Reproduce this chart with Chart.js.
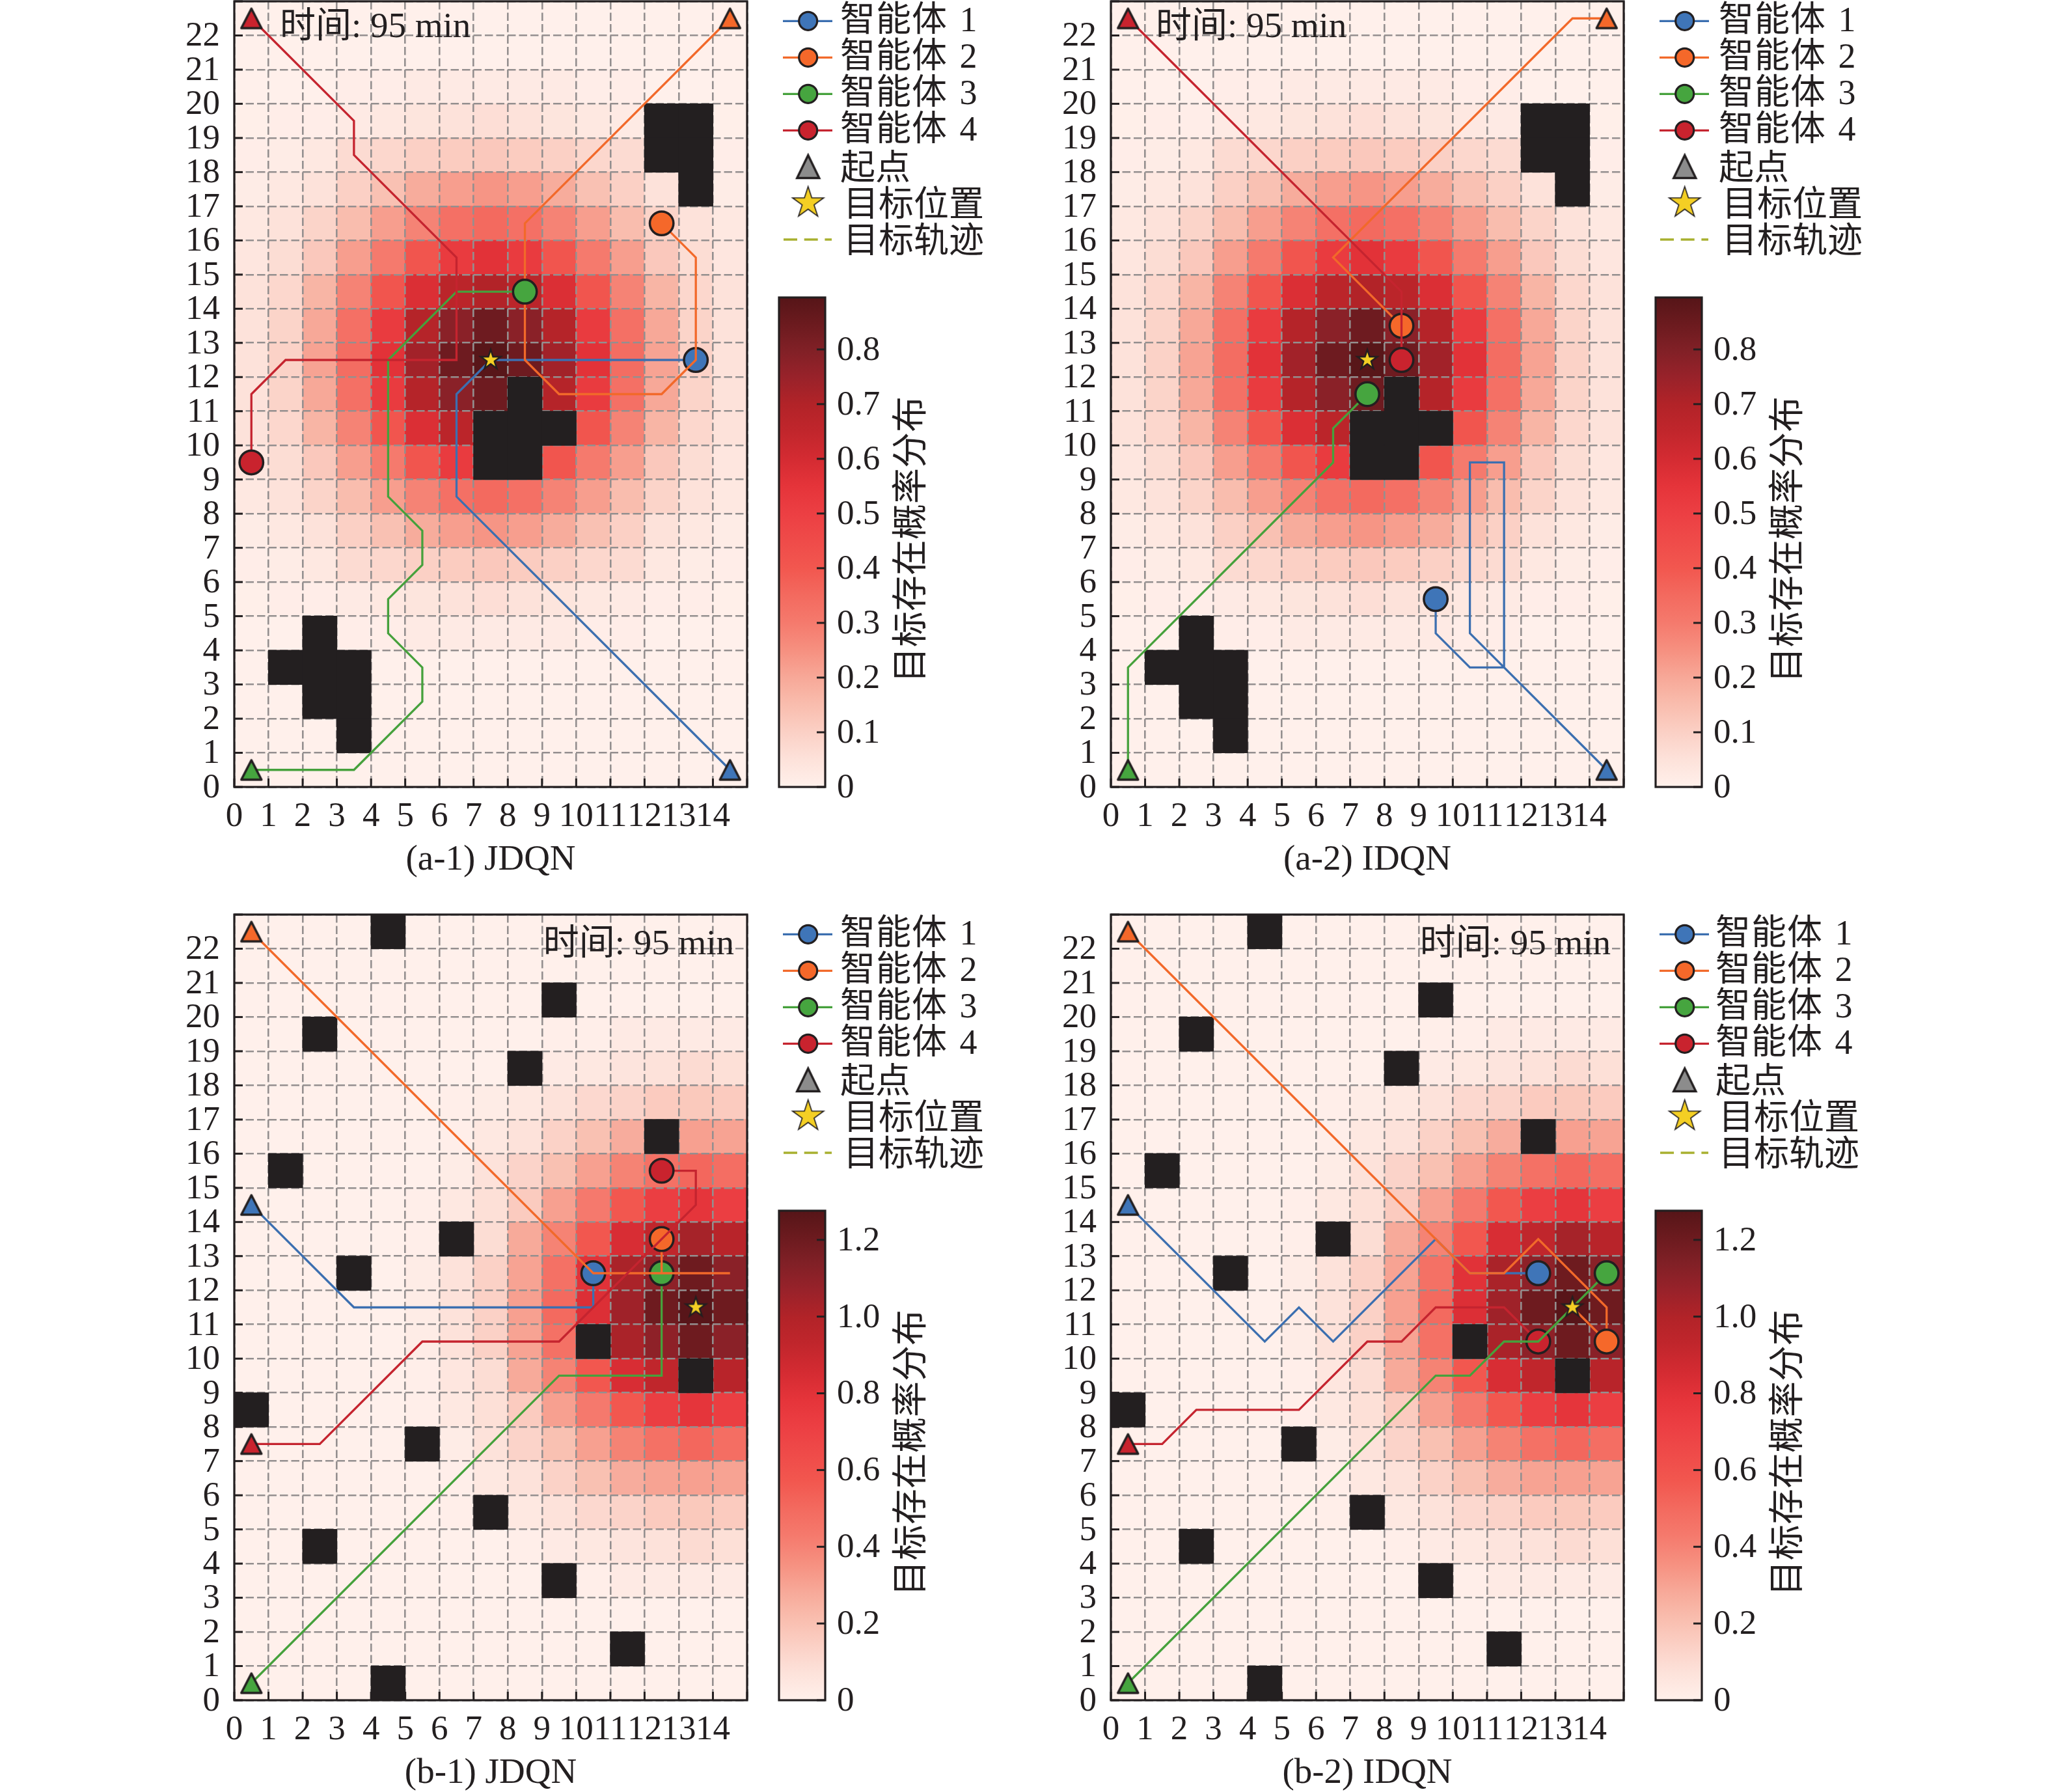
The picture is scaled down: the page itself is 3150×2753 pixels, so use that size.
<!DOCTYPE html>
<html><head><meta charset="utf-8">
<style>html,body{margin:0;padding:0;background:#fff}body{position:relative;width:3150px;height:2753px;overflow:hidden}canvas{position:absolute}</style>
<script src="https://cdn.jsdelivr.net/npm/chart.js@4"></script>
</head><body>
<script>
/* ---------- data ---------- */
const agentNames = ['智能体 1','智能体 2','智能体 3','智能体 4'];
const legendExtras = ['起点','目标位置','目标轨迹'];
const timeLabel = '时间: 95 min';
const colorbarLabel = '目标存在概率分布';
const xTickValues = [0,1,2,3,4,5,6,7,8,9,10,11,12,13,14];
const yTickValues = [0,1,2,3,4,5,6,7,8,9,10,11,12,13,14,15,16,17,18,19,20,21,22];

// heat values, top row (y=22) first, columns x=0..14
const heatA = [
[0,0,0,0,0,0,0,0,0,0,0,0,0,0,0],
[0,0,0,0,0,0,0,0,0,0,0,0,0,0,0],
[0,0,0,.01,.01,.02,.02,.02,.02,.02,.01,.01,0,0,0],
[.005,.01,.01,.02,.03,.04,.05,.06,.05,.04,.03,.02,.01,.01,.005],
[.01,.015,.03,.07,.08,.10,.11,.12,.11,.10,.08,.07,.03,.015,.01],
[.015,.03,.05,.10,.14,.19,.22,.24,.22,.19,.14,.10,.05,.03,.015],
[.03,.05,.09,.15,.22,.28,.33,.35,.33,.28,.22,.15,.09,.05,.03],
[.035,.065,.12,.22,.30,.41,.52,.56,.52,.41,.30,.22,.12,.065,.035],
[.05,.08,.17,.28,.41,.58,.67,.70,.67,.58,.41,.28,.17,.08,.05],
[.05,.09,.20,.33,.52,.69,.78,.84,.78,.69,.52,.33,.20,.09,.05],
[.05,.095,.21,.34,.56,.73,.84,.89,.84,.73,.56,.34,.21,.095,.05],
[.05,.09,.20,.33,.52,.69,.78,.84,.78,.69,.52,.33,.20,.09,.05],
[.05,.08,.17,.28,.41,.58,.67,.70,.67,.58,.41,.28,.17,.08,.05],
[.035,.065,.12,.22,.30,.41,.52,.56,.52,.41,.30,.22,.12,.065,.035],
[.03,.05,.09,.15,.22,.28,.33,.35,.33,.28,.22,.15,.09,.05,.03],
[.015,.03,.05,.10,.14,.19,.22,.24,.22,.19,.14,.10,.05,.03,.015],
[.01,.015,.03,.07,.08,.10,.11,.12,.11,.10,.08,.07,.03,.015,.01],
[.005,.01,.01,.02,.03,.04,.05,.06,.05,.04,.03,.02,.01,.01,.005],
[0,0,0,.01,.01,.02,.02,.02,.02,.02,.01,.01,0,0,0],
[0,0,0,0,0,0,0,0,0,0,0,0,0,0,0],
[0,0,0,0,0,0,0,0,0,0,0,0,0,0,0],
[0,0,0,0,0,0,0,0,0,0,0,0,0,0,0],
[0,0,0,0,0,0,0,0,0,0,0,0,0,0,0]
];
const heatB = [
[0,0,0,0,0,0,0,0,0,0,0,0,0,0,0],
[0,0,0,0,0,0,0,0,0,0,0,0,0,0,0],
[0,0,0,0,0,0,0,0,0,0,0,0,0,0,0],
[0,0,0,0,0,0,0,0,0,.01,.01,.03,.03,.03,.03],
[0,0,0,0,0,0,0,0,.01,.03,.04,.06,.07,.10,.08],
[0,0,0,0,0,0,.01,.02,.04,.07,.11,.13,.16,.17,.16],
[0,0,0,0,0,0,.01,.04,.07,.135,.20,.27,.30,.31,.30],
[0,0,0,0,0,0,.02,.07,.13,.20,.31,.40,.47,.51,.48],
[0,0,0,0,0,.01,.04,.08,.16,.31,.43,.57,.72,.78,.72],
[0,0,0,0,0,.01,.05,.09,.28,.40,.57,.84,.93,1.03,.97],
[0,0,0,0,0,.02,.07,.14,.30,.47,.80,1.02,1.10,1.20,1.11],
[0,0,0,0,0,.02,.07,.14,.31,.50,.82,1.05,1.20,1.27,1.20],
[0,0,0,0,0,.02,.07,.14,.30,.47,.80,1.02,1.10,1.20,1.11],
[0,0,0,0,0,.01,.05,.09,.28,.40,.57,.84,.93,1.03,.97],
[0,0,0,0,0,.01,.04,.08,.16,.31,.43,.57,.72,.78,.72],
[0,0,0,0,0,0,.02,.07,.13,.20,.31,.40,.47,.51,.48],
[0,0,0,0,0,0,.01,.04,.07,.135,.20,.27,.30,.31,.30],
[0,0,0,0,0,0,.01,.02,.04,.07,.11,.13,.16,.17,.16],
[0,0,0,0,0,0,0,0,.01,.03,.04,.06,.07,.10,.08],
[0,0,0,0,0,0,0,0,0,.01,.01,.03,.03,.03,.03],
[0,0,0,0,0,0,0,0,0,0,0,0,0,0,0],
[0,0,0,0,0,0,0,0,0,0,0,0,0,0,0],
[0,0,0,0,0,0,0,0,0,0,0,0,0,0,0]
];
const obstaclesA = [[12,19],[13,19],[12,18],[13,18],[13,17],[8,11],[7,10],[8,10],[9,10],[7,9],[8,9],[2,4],[1,3],[2,3],[3,3],[2,2],[3,2],[3,1]];
const obstaclesB = [[4,22],[9,20],[2,19],[8,18],[12,16],[1,15],[6,13],[3,12],[10,10],[13,9],[0,8],[5,7],[7,5],[2,4],[9,3],[11,1],[4,0]];

const a1Agent1 = [[14.5,.5],[6.5,8.5],[6.5,11.5],[7.5,12.5],[13.5,12.5]];
const a1Agent2 = [[14.5,22.5],[8.5,16.5],[8.5,12.5],[9.5,11.5],[12.5,11.5],[13.5,12.5],[13.5,15.5],[12.5,16.5]];
const a1Agent3 = [[.5,.5],[3.5,.5],[5.5,2.5],[5.5,3.5],[4.5,4.5],[4.5,5.5],[5.5,6.5],[5.5,7.5],[4.5,8.5],[4.5,12.5],[6.5,14.5],[8.5,14.5]];
const a1Agent4 = [[.5,22.5],[3.5,19.5],[3.5,18.5],[6.5,15.5],[6.5,12.5],[1.5,12.5],[.5,11.5],[.5,9.5]];
const a2Agent1 = [[14.5,.5],[10.5,4.5],[10.5,9.5],[11.5,9.5],[11.5,3.5],[10.5,3.5],[9.5,4.5],[9.5,5.5]];
const a2Agent2 = [[14.5,22.5],[13.5,22.5],[6.5,15.5],[8.5,13.5]];
const a2Agent3 = [[.5,.5],[.5,3.5],[6.5,9.5],[6.5,10.5],[7.5,11.5]];
const a2Agent4 = [[.5,22.5],[8.5,14.5],[8.5,12.5]];
const b1Agent1 = [[.5,14.5],[3.5,11.5],[10.5,11.5],[10.5,12.5]];
const b1Agent2 = [[.5,22.5],[10.5,12.5],[14.5,12.5],[12.5,12.5],[12.5,13.5]];
const b1Agent3 = [[.5,.5],[9.5,9.5],[12.5,9.5],[12.5,12.5]];
const b1Agent4 = [[.5,7.5],[2.5,7.5],[5.5,10.5],[9.5,10.5],[13.5,14.5],[13.5,15.5],[12.5,15.5]];
const b2Agent1 = [[.5,14.5],[4.5,10.5],[5.5,11.5],[6.5,10.5],[9.5,13.5],[10.5,12.5],[12.5,12.5]];
const b2Agent2 = [[.5,22.5],[10.5,12.5],[11.5,12.5],[12.5,13.5],[14.5,11.5],[14.5,10.5],[13.5,11.5],[14.5,10.5]];
const b2Agent3 = [[.5,.5],[9.5,9.5],[10.5,9.5],[11.5,10.5],[12.5,10.5],[14.5,12.5]];
const b2Agent4 = [[.5,7.5],[1.5,7.5],[2.5,8.5],[5.5,8.5],[7.5,10.5],[8.5,10.5],[9.5,11.5],[11.5,11.5],[12.5,10.5]];
const targetA = [7.5,12.5];
const targetB = [13.5,11.5];
const vmaxA = 0.895, vmaxB = 1.276;

/* ---------- styles ---------- */
const lineColors = ['#3c6fb0','#f2692a','#46a13c','#c5242f'];
const fillColors = ['#3f75b8','#f5682a','#46a53f','#c9232e'];
const ink = '#231f20';
const gridColor = '#948f8f';
const cmapPos = [0,.05,.1,.15,.2,.25,.3,.35,.4,.45,.5,.55,.6,.65,.7,.75,.8,.85,.895].map(v=>v/.895);
const cmapCol = ['#fff0eb','#fde2da','#fbd0c5','#f9bdae','#f7a898','#f69080','#f57a6d','#f36a5f','#f2574f','#ef4b49','#ec3f43','#e5343a','#d42b32','#c1262c','#b22328','#98222a','#802026','#6a1a1e','#561518'];
const FONT = '"Liberation Serif","Noto Sans CJK SC",serif';
const hex = h => [1,3,5].map(i=>parseInt(h.substr(i,2),16));
function cmap(f){
  f=Math.max(0,Math.min(1,f));
  for(let i=1;i<cmapPos.length;i++) if(f<=cmapPos[i]){
    const t=(f-cmapPos[i-1])/(cmapPos[i]-cmapPos[i-1]),a=hex(cmapCol[i-1]),b=hex(cmapCol[i]);
    return `rgb(${a.map((c,k)=>Math.round(c+(b[k]-c)*t)).join(',')})`;
  }
  return cmapCol[cmapCol.length-1];
}
function tri(fill,w,hw,hh,join){
  const c=document.createElement('canvas');c.width=c.height=52;const x=c.getContext('2d');
  x.beginPath();x.moveTo(26,26-hh);x.lineTo(26+hw,26+hh);x.lineTo(26-hw,26+hh);x.closePath();
  x.fillStyle=fill;x.fill();x.lineWidth=w;x.strokeStyle=ink;x.lineJoin=join;x.miterLimit=10;x.stroke();return c;
}
function starPath(x,cx,cy,R){
  const r=R*.382;x.beginPath();
  for(let i=0;i<10;i++){const a=-Math.PI/2+i*Math.PI/5,q=i%2?r:R;x.lineTo(cx+q*Math.cos(a),cy+q*Math.sin(a));}
  x.closePath();
}
function star(R,lw){
  const s=Math.ceil(R*2+lw*6);const c=document.createElement('canvas');c.width=c.height=s;const x=c.getContext('2d');
  starPath(x,s/2,s/2,R);x.lineJoin='miter';x.miterLimit=10;x.lineWidth=lw;x.strokeStyle=ink;x.stroke();
  x.fillStyle='#f4cf24';x.fill();return c;
}
const PW=788, PH=1207, XH=150, PAD=40;
const xy = p=>({x:p[0],y:p[1]});

function makePanel(cfg){
  const cv=document.createElement('canvas');
  const x0=cfg.left-100,y0=cfg.top-PAD,padTop=PAD,W=1300,H=padTop+PH+XH;
  cv.width=W;cv.height=H;cv.style.cssText=`left:${x0}px;top:${y0}px;width:${W}px;height:${H}px`;
  document.body.appendChild(cv);
  const vmax=cfg.vmax;
  const heatData=[],heatCol=[];
  cfg.heat.forEach((row,r)=>row.forEach((v,c)=>{const yy=22-r;heatData.push({x:c+.5,y:[yy,yy+1]});heatCol.push(cmap(v/vmax));}));
  const ds=[];
  const barBase={type:'bar',barPercentage:1,categoryPercentage:1,borderWidth:0,inflateAmount:.5,clip:false};
  ds.push({...barBase,label:'heat',data:heatData,backgroundColor:heatCol,order:100});
  ds.push({...barBase,label:'obstacles',data:cfg.obstacles.map(o=>({x:o[0]+.5,y:[o[1],o[1]+1]})),backgroundColor:ink,order:90});
  const OBST=1;
  cfg.draw.forEach((ag,i)=>{
    const p=cfg.paths[ag];
    ds.push({type:'line',label:agentNames[ag],data:p.map(xy),borderColor:lineColors[ag],borderWidth:3.3,pointRadius:0,tension:0,fill:false,order:60-2*i,borderJoinStyle:'miter',clip:false});
    ds.push({type:'scatter',label:agentNames[ag]+' end',data:[xy(p[p.length-1])],pointRadius:18.2,pointBorderWidth:3.5,pointBackgroundColor:fillColors[ag],pointBorderColor:ink,order:59-2*i,clip:false});
  });
  [0,1,2,3].forEach(ag=>{
    ds.push({type:'scatter',label:legendExtras[0]+(ag+1),data:[xy(cfg.paths[ag][0])],pointStyle:tri(fillColors[ag],3.5,15.5,15,'round'),pointRadius:18,order:10,clip:false});
  });
  ds.push({type:'scatter',label:legendExtras[1],data:[xy(cfg.target)],pointStyle:star(12,5),pointRadius:18,order:5,clip:false});

  const deco={id:'deco',
    beforeDatasetDraw(ch,args){
      if(args.index===OBST){ch.scales.x.drawGrid(ch.chartArea);ch.scales.y.drawGrid(ch.chartArea);}
    },
    afterDraw(ch){
      const c=ch.ctx,A=ch.chartArea;c.save();
      c.strokeStyle=ink;c.lineWidth=3;
      ch.scales.x.ticks.forEach(t=>{const px=ch.scales.x.getPixelForValue(t.value);c.beginPath();c.moveTo(px,A.bottom);c.lineTo(px,A.bottom-13);c.stroke();});
      ch.scales.y.ticks.forEach(t=>{const py=ch.scales.y.getPixelForValue(t.value);c.beginPath();c.moveTo(A.left,py);c.lineTo(A.left+13,py);c.stroke();});
      c.lineWidth=3.2;c.strokeRect(A.left,A.top,A.right-A.left,A.bottom-A.top);
      c.fillStyle=ink;c.font='55px '+FONT;c.textBaseline='middle';
      if(cfg.timeRight){c.textAlign='right';c.fillText(timeLabel,A.right-20,A.top+47);}
      else{c.textAlign='left';c.fillText(timeLabel,A.left+cfg.timeX,A.top+41);}
      const rows=[30.3,86.3,142.3,198.3,254,309.7,366];
      const hx0=A.left+843,hx1=A.left+919,mx=A.left+881.7,tx=A.left+cfg.textX;
      const ly=i=>A.top+rows[i]+(i<4?2:6);
      c.textAlign='left';c.font='54px '+FONT;
      agentNames.forEach((n,i)=>{
        const y=A.top+rows[i];
        c.strokeStyle=lineColors[i];c.lineWidth=3.3;c.beginPath();c.moveTo(hx0,y);c.lineTo(hx1,y);c.stroke();
        c.beginPath();c.arc(mx,y,14,0,Math.PI*2);c.fillStyle=fillColors[i];c.fill();c.strokeStyle=ink;c.lineWidth=3.2;c.stroke();
        c.fillStyle=ink;c.letterSpacing='1px';c.wordSpacing='4px';c.fillText(n,tx,ly(i));c.letterSpacing='0px';c.wordSpacing='0px';
      });
      const tg=tri('#8c8c8c',3.4,17,17.5,'miter');c.drawImage(tg,mx-26,A.top+rows[4]-26);
      const sg=star(22.5,3.3);c.drawImage(sg,mx-sg.width/2,A.top+rows[5]-sg.height/2);
      c.strokeStyle='#a8b02f';c.lineWidth=3.3;c.setLineDash([21,10.7]);c.beginPath();c.moveTo(hx0+1,A.top+rows[6]);c.lineTo(hx1-1,A.top+rows[6]);c.stroke();c.setLineDash([]);
      c.fillStyle=ink;
      c.fillText(legendExtras[0],tx,ly(4));
      c.fillText(legendExtras[1],tx+5,ly(5));
      c.fillText(legendExtras[2],tx+5,ly(6));
      c.restore();
    }
  };
  const zero=s=>{s.paddingLeft=s.paddingRight=s.paddingTop=s.paddingBottom=0;};
  new Chart(cv,{type:'bar',data:{datasets:ds},plugins:[deco],options:{
    responsive:false,animation:false,devicePixelRatio:1,events:[],
    layout:{padding:{top:padTop,right:W-100-PW,left:0,bottom:0}},
    plugins:{legend:{display:false},tooltip:{enabled:false}},
    scales:{
      x:{type:'linear',stacked:true,min:0,max:15,offset:false,
        grid:{color:gridColor,lineWidth:2.6,drawTicks:false,offset:false},border:{display:false,dash:[12.5,5]},
        ticks:{stepSize:1,autoSkip:false,maxRotation:0,minRotation:0,padding:14,color:ink,font:{family:FONT,size:53},callback:v=>xTickValues.includes(v)?String(v):''},
        title:{display:true,text:cfg.title,color:ink,font:{family:FONT,size:55},padding:{top:0,bottom:4}},
        afterFit(s){s.height=XH;zero(s);}},
      y:{type:'linear',min:0,max:23,
        grid:{color:gridColor,lineWidth:2.6,drawTicks:false},border:{display:false,dash:[12.5,5]},
        ticks:{stepSize:1,autoSkip:false,padding:22,labelOffset:2,color:ink,font:{family:FONT,size:53},callback:v=>yTickValues.includes(v)?String(v):''},
        afterFit(s){s.width=100;zero(s);}}
    }}});

  /* colour bar */
  const cb=document.createElement('canvas');
  const CBT=40;
  const cbTop=cfg.top+PH-cfg.cbHeight,cx0=cfg.left+820,cy0=cbTop-CBT,cw=270,ch0=PH+cfg.top-cy0+40;
  cb.width=cw;cb.height=ch0;cb.style.cssText=`left:${cx0}px;top:${cy0}px;width:${cw}px;height:${ch0}px`;
  document.body.appendChild(cb);
  const cbDeco={id:'cbDeco',afterDraw(ch){
    const c=ch.ctx,A=ch.chartArea;c.save();c.strokeStyle=ink;c.lineWidth=3;
    ch.scales.y.ticks.forEach(t=>{const py=ch.scales.y.getPixelForValue(t.value);c.beginPath();c.moveTo(A.right,py);c.lineTo(A.right-13,py);c.stroke();});
    c.lineWidth=3.2;c.strokeRect(A.left,A.top,A.right-A.left,A.bottom-A.top);
    c.translate(223,(A.top+A.bottom)/2-4);c.rotate(-Math.PI/2);c.textAlign='center';c.textBaseline='middle';c.fillStyle=ink;c.font='55px '+FONT;c.fillText(colorbarLabel,0,0);
    c.restore();
  }};
  new Chart(cb,{type:'bar',data:{labels:[''],datasets:[{data:[[0,vmax]],barPercentage:1,categoryPercentage:1,borderWidth:0,
      backgroundColor(ctx){const A=ctx.chart.chartArea;if(!A)return cmapCol[5];const g=ctx.chart.ctx.createLinearGradient(0,A.bottom,0,A.top);cmapPos.forEach((p,i)=>g.addColorStop(p,cmapCol[i]));return g;}}]},
    plugins:[cbDeco],options:{responsive:false,animation:false,devicePixelRatio:1,events:[],
    layout:{padding:{left:17,top:CBT,bottom:40,right:0}},
    plugins:{legend:{display:false},tooltip:{enabled:false}},
    scales:{x:{display:false},
      y:{position:'right',min:0,max:vmax,grid:{display:false,drawTicks:false},border:{display:false},
         ticks:{stepSize:cfg.cbStep,includeBounds:false,padding:18,labelOffset:2,color:ink,font:{family:FONT,size:53},callback:v=>v===0?'0':v.toFixed(1)},
         afterFit(s){s.width=cw-88;zero(s);}}}}});
}

const panels=[
 {left:360,top:2,title:'(a-1) JDQN',heat:heatA,obstacles:obstaclesA,paths:[a1Agent1,a1Agent2,a1Agent3,a1Agent4],draw:[0,1,2,3],target:targetA,vmax:vmaxA,cbHeight:752,cbStep:.1,timeX:70,textX:931},
 {left:1707,top:2,title:'(a-2) IDQN',heat:heatA,obstacles:obstaclesA,paths:[a2Agent1,a2Agent2,a2Agent3,a2Agent4],draw:[0,1,2,3],target:targetA,vmax:vmaxA,cbHeight:752,cbStep:.1,timeX:69,textX:934},
 {left:360,top:1405,title:'(b-1) JDQN',heat:heatB,obstacles:obstaclesB,paths:[b1Agent1,b1Agent2,b1Agent3,b1Agent4],draw:[0,2,1,3],target:targetB,vmax:vmaxB,cbHeight:752,cbStep:.2,timeRight:true,textX:931},
 {left:1707,top:1405,title:'(b-2) IDQN',heat:heatB,obstacles:obstaclesB,paths:[b2Agent1,b2Agent2,b2Agent3,b2Agent4],draw:[0,1,3,2],target:targetB,vmax:vmaxB,cbHeight:752,cbStep:.2,timeRight:true,textX:929}
];
panels.forEach(makePanel);
</script>
</body></html>
